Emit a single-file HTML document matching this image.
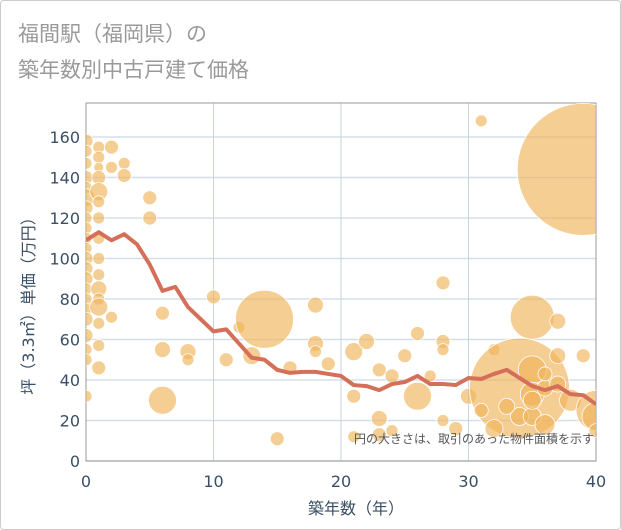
<!DOCTYPE html>
<html><head><meta charset="utf-8"><style>
body{margin:0;background:#fff;font-family:"DejaVu Sans","Noto Sans CJK JP",sans-serif}
#wrap{position:relative;width:619px;height:528px;border:1px solid #ccc;border-radius:4px;}
</style></head><body>
<div id="wrap">
<svg id="c" width="621" height="530" style="position:absolute;left:-1px;top:-1px">
<text x="18" y="41" font-size="21" fill="#9a9a9a" font-family="Liberation Sans,Noto Sans CJK JP,sans-serif">福間駅（福岡県）の</text>
<text x="18" y="77" font-size="21" fill="#9a9a9a" font-family="Liberation Sans,Noto Sans CJK JP,sans-serif">築年数別中古戸建て価格</text>
</svg>
</div>
<script>
const xTicks=[0,10,20,30,40];
const yTicks=[0,20,40,60,80,100,120,140,160];
const lineYears=[0,1,2,3,4,5,6,7,8,9,10,11,12,13,14,15,16,17,18,19,20,21,22,23,24,25,26,27,28,29,30,31,32,33,34,35,36,37,38,39,40];
const lineValues=[109,113,109,112,107,97,84,86,76,70,64,65,58,51,50,45,43.5,44,44,43,42,37.5,37,35,38,39,42,38,38,37.5,41,40.5,43,45,41,37,35,37,33,32.5,28];
const bubbleX=[0,0,0,0,0,0,0,0,0,0,0,0,0,0,0,0,0,0,0,0,0,0,1,1,1,1,1,1,1,1,1,1,1,1,1,1,1,1,2,2,2,3,3,5,5,6,6,6,8,8,10,11,12,13,14,15,16,18,18,18,19,21,21,21,22,23,23,23,24,24,25,26,26,27,28,28,28,28,30,31,32,34,34,35,35,35,35,36,36,37,37,37,38,39,39,40,40,40,31,32,29,33,35,36];
const bubbleY=[158,153,147,140,135,130,125,120,115,110,105,100,95,90,85,80,75,70,62,55,50,32,155,150,145,140,133,128,120,110,100,92,85,80,76,68,57,46,155,145,71,147,141,130,120,73,55,30,54,50,81,50,66,52,70,11,46,77,58,54,48,12,54,32,59,21,13,45,42,15,52,63,32,42,59,55,20,88,32,168,55,36,22,71,45,33,22,36,18,69,52,38,30,144,52,25,22,15,25,16,16,27,30,43];
const bubbleR=[7,6,6,7,6,9,7,6,6,6,6,7,7,7,6,6,6,7,7,6,6,6,6,6,5,7,9,6,6,6,6,6,8,6,9,6,6,7,7,6,6,6,7,7,7,7,8,14,8,6,7,7,6,9,29,7,7,8,8,6,7,6,9,7,8,8,7,7,7,6,7,7,14,6,7,6,6,7,8,6,6,50,9,22,14,12,9,8,10,8,8,8,11,66,7,20,14,7,7,9,7,8,9,7];
const X0=86,X1=596,Y0=461,Y160=137;
const sx=v=>X0+(X1-X0)*v/40, sy=v=>Y0+(Y160-Y0)*v/160;
const NS="http://www.w3.org/2000/svg", svg=document.getElementById('c');
function mk(t,a,p){const e=document.createElementNS(NS,t);for(const k in a)e.setAttribute(k,a[k]);(p||svg).appendChild(e);return e;}
const defs=mk('defs',{});const cp=mk('clipPath',{id:'pc'},defs);mk('rect',{x:X0,y:103,width:X1-X0,height:Y0-103},cp);
const grid=mk('g',{});


yTicks.forEach(v=>{const l=mk('line',{x1:X0,x2:X1,y1:sy(v),y2:sy(v),stroke:'#d5dfe9','stroke-width':1.5},grid);


const t=mk('text',{x:X0-6,y:sy(v)+6,'text-anchor':'end','font-size':16,fill:'#3a4f66'});t.textContent=v;

});
xTicks.forEach(v=>{const l=mk('line',{x1:sx(v),x2:sx(v),y1:103,y2:Y0,stroke:'#c8d3df','stroke-width':1},grid);


const t=mk('text',{x:sx(v),y:Y0+26,'text-anchor':'middle','font-size':16,fill:'#3a4f66'});t.textContent=v;

});
mk('rect',{x:X0,y:103,width:X1-X0,height:Y0-103,fill:'none',stroke:'#999','stroke-width':1});
const bg=mk('g',{'clip-path':'url(#pc)'});


bubbleX.forEach((x,i)=>{const c=mk('circle',{cx:sx(x),cy:sy(bubbleY[i]),r:bubbleR[i],fill:'rgba(240,180,90,0.65)',stroke:'#fff','stroke-width':0.8},bg);

});
const pl=mk('polyline',{points:lineYears.map((x,i)=>sx(x)+','+sy(lineValues[i])).join(' '),fill:'none',stroke:'#d4705a','stroke-width':4,'clip-path':'url(#pc)','stroke-linejoin':'round'});


const note=mk('text',{x:594,y:443,'text-anchor':'end','font-size':12,fill:'#555'});note.textContent='円の大きさは、取引のあった物件面積を示す';


const xt=mk('text',{x:sx(20)+15,y:514,'text-anchor':'middle','font-size':16,fill:'#3a4f66'});xt.textContent='築年数（年）';


const yt=mk('text',{x:0,y:0,'text-anchor':'middle','font-size':16,fill:'#3a4f66',transform:'translate(34,'+((103+Y0)/2+20)+') rotate(-90)'});yt.textContent='坪（3.3㎡）単価（万円）';


</script>
</body></html>
